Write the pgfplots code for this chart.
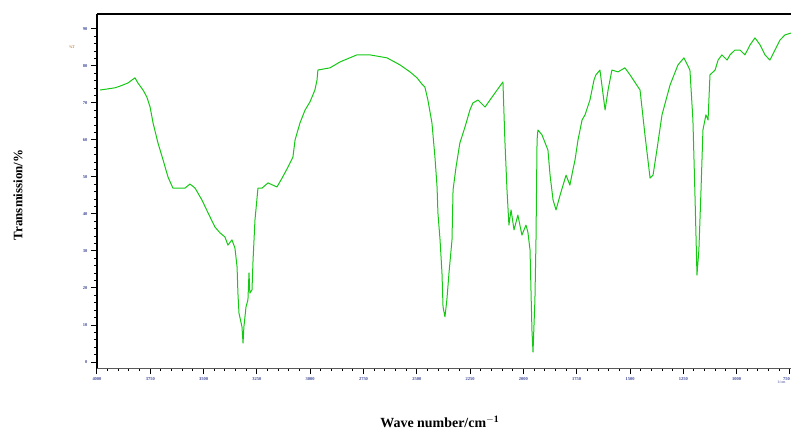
\documentclass[border=0pt]{standalone}
\usepackage{fontspec}
\setmainfont{Liberation Serif}
\usepackage{pgfplots}
\pgfplotsset{compat=1.18}
\definecolor{spec}{RGB}{20,200,20}
\definecolor{ticklab}{RGB}{60,70,150}
\begin{document}
\begin{tikzpicture}
\path[use as bounding box] (0,0) rectangle (791bp,431bp);
\begin{axis}[
  at={(97bp,63bp)}, anchor=south west,
  scale only axis, width=694bp, height=354bp,
  xmin=745, xmax=4000, x dir=reverse,
  ymin=-1.62, ymax=94.05,
  axis x line*=bottom, axis y line*=left,
  x axis line style={draw=gray!70!black, line width=0.8bp, -},
  y axis line style={draw=black, line width=2.6bp, -},
  xtick={750,1000,...,4000},
  xticklabels={\llap{750},1000,1250,1500,1750,2000,2250,2500,2750,3000,3250,3500,3750,4000},
  ytick={0,10,...,90},
  minor x tick num=4, minor y tick num=4,
  tick align=outside,
  major tick length=6bp, minor tick length=3bp,
  every tick/.style={black, line width=1bp},
  tick label style={font=\fontsize{4.5}{5}\selectfont\bfseries, text=ticklab},
  /pgf/number format/assume math mode=true,
  /pgf/number format/1000 sep={},
  xlabel={\bfseries Wave number/cm$^{\mathbf{-1}}$},
  ylabel={\bfseries Transmission/\%},
  xlabel style={font=\fontsize{14}{16}\selectfont, at={(axis description cs:0.494,-0.152)}, anchor=center},
  ylabel style={font=\fontsize{13}{15}\selectfont, at={(axis description cs:-0.114,0.489)}, anchor=center},
  clip=false,
]
\addplot[spec, line width=1bp, line join=round] coordinates {
(3986,73.5) (3950,73.8) (3916,74.1) (3890,74.6) (3855,75.4) (3822,76.8) (3808,75.4)
(3784,73.5) (3766,71.6) (3751,68.9) (3737,64.6) (3714,59.2) (3690,54.6)
(3667,50.0) (3644,47.0) (3587,47.0) (3564,48.1) (3540,47.0) (3508,43.8)
(3479,40.3) (3447,36.5) (3423,34.9) (3400,33.8) (3386,31.6) (3367,33.0)
(3353,30.8) (3343,25.7) (3339,18.6) (3334,13.2) (3320,9.5) (3315,5.1)
(3311,9.5) (3301,14.9) (3292,16.8) (3287,24.1) (3283,18.6) (3273,19.5)
(3268,27.6) (3259,38.4) (3245,47.0) (3226,47.0) (3198,48.4) (3175,47.8)
(3156,47.3) (3132,49.7) (3104,52.7) (3081,55.4) (3071,60.0) (3048,64.6)
(3024,68.1) (3001,70.3) (2978,73.5) (2968,76.2) (2964,78.9) (2907,79.5)
(2860,81.1) (2781,83.0) (2720,83.0) (2640,82.2) (2579,80.3) (2532,78.4)
(2499,76.8) (2476,75.1) (2462,74.3) (2448,70.8) (2429,64.6) (2415,55.4)
(2405,47.3) (2401,40.3) (2391,33.0) (2382,24.1) (2377,14.9) (2368,12.2)
(2359,16.8) (2349,24.1) (2335,33.0) (2330,46.5) (2316,52.7) (2298,59.2)
(2274,63.5) (2251,68.1) (2237,70.0) (2213,70.8) (2180,68.9) (2157,70.8)
(2096,75.7) (2087,60.0) (2077,46.5) (2068,37.0) (2058,41.1) (2044,35.7)
(2026,39.7) (2007,34.3) (1988,37.0) (1979,35.1) (1969,30.3) (1960,8.6)
(1955,2.7) (1946,16.8) (1941,33.0) (1936,60.0) (1932,62.7) (1913,61.4)
(1894,58.6) (1885,57.3) (1875,50.5) (1861,43.8) (1847,41.1) (1828,45.1)
(1814,47.8) (1800,50.5) (1782,47.8) (1768,51.9) (1758,54.6) (1744,60.0)
(1725,65.4) (1711,66.8) (1688,70.8) (1669,76.2) (1660,77.6) (1641,78.9)
(1617,68.1) (1603,73.5) (1585,78.9) (1556,78.4) (1524,79.5) (1500,77.6)
(1453,73.5) (1430,61.4) (1406,49.7) (1392,50.5) (1374,57.3) (1350,66.8)
(1312,74.9) (1275,80.3) (1247,82.2) (1219,78.9) (1205,65.4) (1195,44.3)
(1186,23.5) (1177,30.3) (1167,46.5) (1158,62.7) (1144,66.8) (1134,65.4)
(1125,77.6) (1101,78.9) (1087,81.6) (1069,83.0) (1045,81.6) (1031,83.0)
(1008,84.3) (984,84.3) (961,83.0) (937,85.7) (914,87.6) (890,85.7)
(867,83.0) (844,81.6) (820,84.3) (797,87.0) (773,88.4) (745,88.9)
};
\draw[black, line width=1.2bp] (rel axis cs:0,1) -- (rel axis cs:1,1);
\node[font=\fontsize{4}{5}\selectfont, text=orange!70!black, anchor=center] at (axis description cs:-0.036,0.907) {\%T};
\node[font=\fontsize{4}{5}\selectfont, text=ticklab, anchor=east] at (axis description cs:0.997,-0.04) {1/cm};
\end{axis}
\end{tikzpicture}
\end{document}
